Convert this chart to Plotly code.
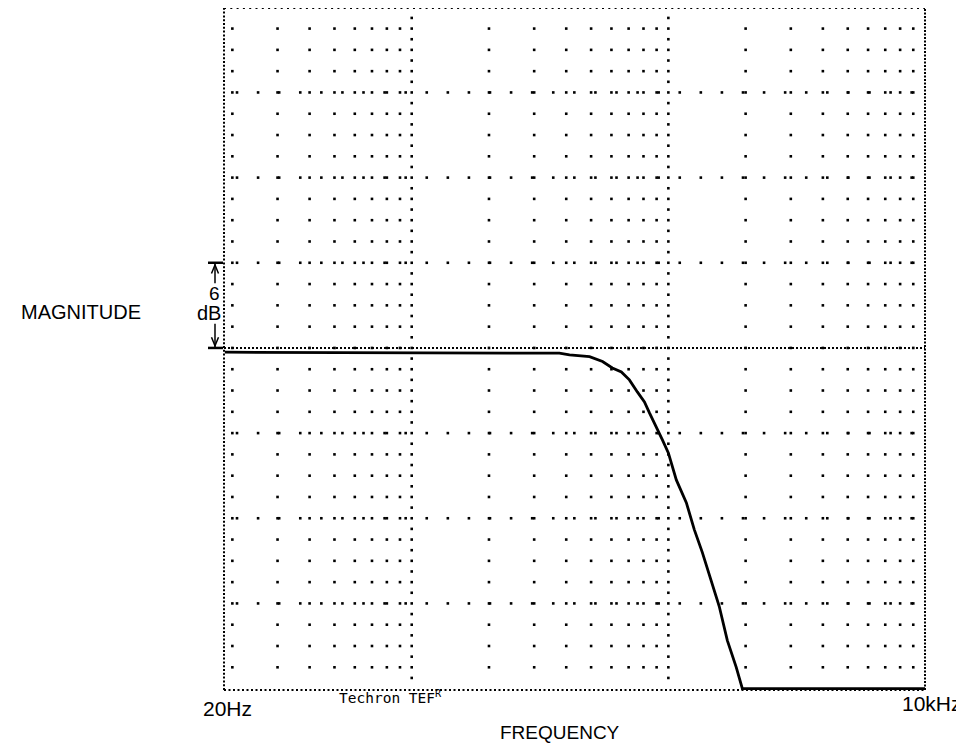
import numpy as np
import plotly.graph_objects as go

# ---------------- data ----------------
freq_hz = [18.7, 315, 376, 412, 493, 554, 605, 656, 705, 757, 807, 844, 898,
           948, 1000, 1074, 1175, 1262, 1356, 1469, 1578, 1697, 1839, 1942, 10000]
mag_db = [-0.3, -0.35, -0.37, -0.49, -0.61, -0.96, -1.41, -1.69, -2.25, -3.1,
          -3.8, -4.58, -5.56, -6.48, -7.4, -9.3, -10.9, -12.8, -14.4, -16.5,
          -18.2, -20.6, -22.5, -24.0, -24.0]

x_range_log = [1.2685, 4.0]          # ~18.6 Hz .. 10 kHz
y_range_db = [-24.1, 23.95]
decades = [10, 100, 1000]
minor_mult = [2, 3, 4, 5, 6, 7, 8, 9]
major_cols_hz = [100, 1000]
major_rows_db = [-18, -12, -6, 6, 12, 18]
row_step_db = 1.5
major_col_step_db = 0.75
row_dot_start_log = 1.3192           # evenly spaced dots on major rows
row_dot_step_log = 0.08215
row_dot_count = 33
x_labels = ["20Hz", "10kHz"]
x_title = "FREQUENCY"
y_title = "MAGNITUDE"
scale_db = 6

DOT = dict(color="black", size=2.6, symbol="square")

fig = go.Figure()

# ---------------- dotted grid (scatter dots) ----------------
rows = np.arange(-24 + row_step_db, 24, row_step_db)
minor_cols = [d * m for d in decades for m in minor_mult
              if np.log10(d * m) > x_range_log[0]]
gx, gy = [], []
for c in minor_cols:
    for r in rows:
        gx.append(c); gy.append(r)
mrows = np.arange(-24 + major_col_step_db, 24, major_col_step_db)
for c in major_cols_hz:
    for r in mrows:
        gx.append(c); gy.append(r)
row_dots = 10 ** (row_dot_start_log + row_dot_step_log * np.arange(row_dot_count))
for r in major_rows_db:
    for c in row_dots:
        gx.append(c); gy.append(r)
fig.add_trace(go.Scatter(x=gx, y=gy, mode="markers", marker=DOT,
                         hoverinfo="skip", showlegend=False))

# ---------------- response curve ----------------
fig.add_trace(go.Scatter(x=freq_hz, y=mag_db, mode="lines",
                         line=dict(color="black", width=2.8),
                         showlegend=False))

# ---------------- borders and reference line ----------------
shapes = [
    dict(type="line", xref="paper", yref="paper", x0=0, x1=1, y0=1, y1=1,
         line=dict(color="black", width=2, dash="2px,4.3px")),
    dict(type="line", xref="paper", yref="paper", x0=0, x1=1, y0=0, y1=0,
         line=dict(color="black", width=2, dash="2px,2.5px")),
    dict(type="line", xref="paper", yref="paper", x0=0, x1=0, y0=0, y1=1,
         line=dict(color="black", width=2, dash="2px,1.8px")),
    dict(type="line", xref="paper", yref="paper", x0=1, x1=1, y0=0, y1=1,
         line=dict(color="black", width=2, dash="2px,1.5px")),
    dict(type="line", xref="paper", yref="y", x0=0, x1=1, y0=0, y1=0,
         line=dict(color="black", width=2, dash="2px,2px")),
]

# 6 dB scale marker
mx = -0.01284
c0, c1 = -0.0228, -0.0014
lw = dict(color="black", width=1.5)
shapes += [
    dict(type="line", xref="paper", yref="y", x0=c0, x1=c1, y0=scale_db, y1=scale_db,
         line=dict(color="black", width=2.5)),
    dict(type="line", xref="paper", yref="y", x0=c0, x1=c1, y0=0, y1=0,
         line=dict(color="black", width=2.5)),
    dict(type="line", xref="paper", yref="y", x0=mx, x1=mx, y0=scale_db, y1=4.55, line=lw),
    dict(type="line", xref="paper", yref="y", x0=mx, x1=mx, y0=1.7, y1=0, line=lw),
    dict(type="path", xref="paper", yref="y",
         path=f"M {mx-0.005},5.25 L {mx},5.85 L {mx+0.005},5.25", line=lw),
    dict(type="path", xref="paper", yref="y",
         path=f"M {mx-0.005},0.75 L {mx},0.15 L {mx+0.005},0.75", line=lw),
]

FONT = "Liberation Sans, Arial, sans-serif"
def txt(t, x, y, size, family=FONT, yref="paper", yanchor="middle"):
    return dict(text=t, x=x, y=y, xref="paper", yref=yref, xanchor="center",
                yanchor=yanchor, showarrow=False,
                font=dict(size=size, family=family, color="black"))

ann = [
    txt(y_title, -0.2047, 0.5543, 20),
    txt(x_labels[0], 0.0043, -0.0264, 21),
    txt(x_labels[1], 1.010, -0.0205, 21),
    txt(x_title, 0.4793, -0.0616, 19),
    txt("Techron TEF<sup>R</sup>", 0.2382, -0.0103, 14.5,
        family="DejaVu Sans Mono, monospace"),
    txt(str(scale_db), mx, 3.85, 19, yref="y"),
    txt("d", -0.0310, 2.45, 20, yref="y"),
    txt("B", mx, 2.45, 20, yref="y"),
]

fig.update_layout(
    width=956, height=739,
    margin=dict(l=216, r=39, t=0, b=57),
    paper_bgcolor="white", plot_bgcolor="white",
    shapes=shapes, annotations=ann,
    xaxis=dict(type="log", range=x_range_log, showgrid=False, zeroline=False,
               showticklabels=False, ticks="", showline=False),
    yaxis=dict(range=y_range_db, showgrid=False, zeroline=False,
               showticklabels=False, ticks="", showline=False),
)

fig.write_html("out.html")
